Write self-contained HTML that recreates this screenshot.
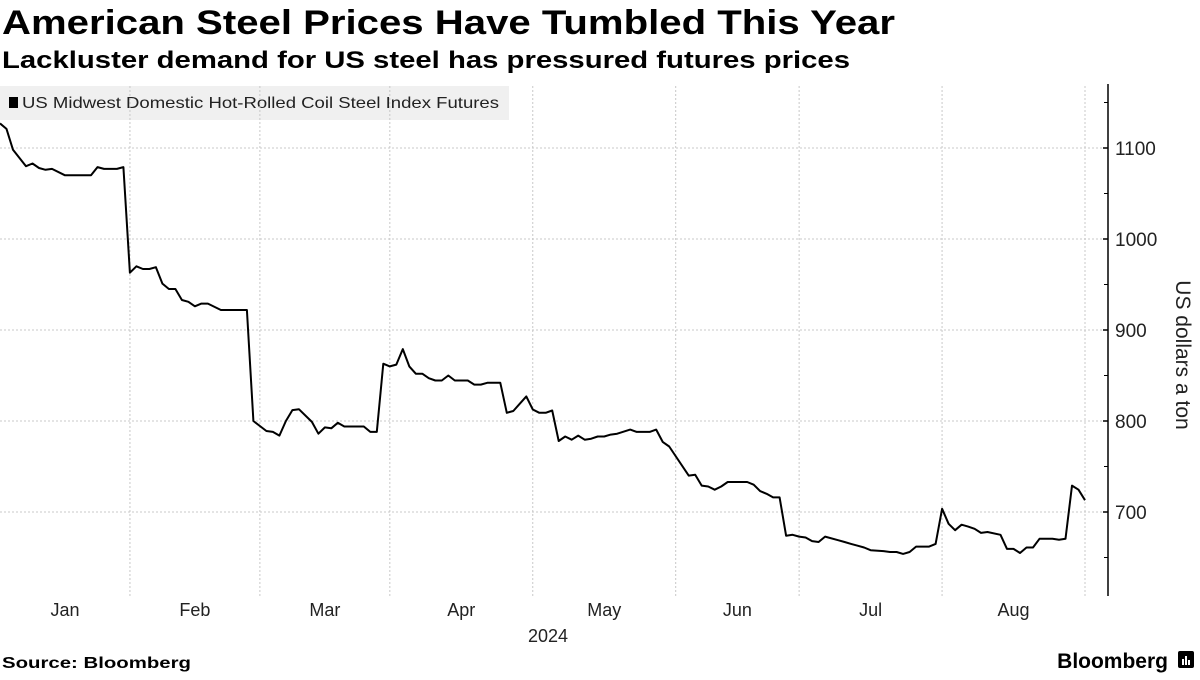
<!DOCTYPE html>
<html><head><meta charset="utf-8"><style>
body{margin:0;background:#fff;width:1200px;height:675px;overflow:hidden;font-family:"Liberation Sans",sans-serif;}
</style></head><body>
<svg id="chart" width="1200" height="675" xmlns="http://www.w3.org/2000/svg">
<text x="2" y="34" font-size="34" font-weight="bold" fill="#000" textLength="893" lengthAdjust="spacingAndGlyphs">American Steel Prices Have Tumbled This Year</text>
<text x="2" y="68" font-size="24" font-weight="bold" fill="#000" textLength="848" lengthAdjust="spacingAndGlyphs">Lackluster demand for US steel has pressured futures prices</text>
<g>
<rect x="0" y="86" width="509" height="34" fill="#f0f0f0"/>
<rect x="9" y="97" width="9" height="11" fill="#000"/>
<text x="22" y="108" font-size="16" fill="#222" textLength="477" lengthAdjust="spacingAndGlyphs">US Midwest Domestic Hot-Rolled Coil Steel Index Futures</text>
</g>
<g id="grid"></g>
<g id="axes"></g>
<path id="line" fill="none" stroke="#000" stroke-width="2" stroke-linejoin="round"/>
<text x="548" y="642" font-size="18" text-anchor="middle" fill="#222">2024</text>
<text transform="translate(1176,355) rotate(90)" font-size="21" text-anchor="middle" fill="#222">US dollars a ton</text>
<text x="2" y="668" font-size="16" font-weight="bold" fill="#000" textLength="189" lengthAdjust="spacingAndGlyphs">Source: Bloomberg</text>
<text x="1168" y="668" font-size="21" font-weight="bold" text-anchor="end" fill="#000">Bloomberg</text>
<g><rect x="1178" y="651" width="16" height="17" rx="2" fill="#000"/><rect x="1182" y="659" width="2" height="6" fill="#fff"/><rect x="1185" y="656" width="2" height="9" fill="#fff"/><rect x="1188" y="660" width="2" height="5" fill="#fff"/></g>
</svg>
<script>
const dayIdx=[0,1,2,4,5,6,7,8,10,14,15,16,18,19,20,21,22,23,24,25,26,27,28,29,30,31,32,34,38,39,41,42,43,44,45,46,48,49,50,51,52,53,56,57,58,59,60,61,62,63,64,65,66,67,68,69,70,72,73,74,75,77,78,79,80,81,82,83,84,85,86,87,88,89,90,91,92,93,94,95,97,98,100,101,102,103,106,107,108,109,110,111,112,115,116,117,118,119,120,121,122,123,124,125,126,127,129,130,131,132,133,134,136,137,138,139,140,141,143,144,145,146,147,148,149,150,151,152,154,155,156,157,158,159,160,162,163,164,165,166,167];
const prices=[1127,1121,1098,1080,1083,1078,1076,1077,1070,1070,1079,1077,1077,1079,963,970,967,967,969,951,945,945,933,931,926,929,929,922,922,800,789,788,784,800,812,813,799,786,793,792,798,794,794,788,788,863,860,862,879,860,852,852,847,844.5,844.5,850,844.5,844.5,840,840,842,842,809,811,819,827,812.6,809,809,811.5,778,783,779.5,784,779.5,780.6,783,783,785,786,790.5,788,788,790.5,777,772,740,741,729,728,724.5,728,733,733,730,723,720,716,716,674,675,673,672,668,667,673,669,667,665,663,661,658,657,656,656,654,656,662,662,665,703.5,687,680,686,684,681.5,677,678,675,659.5,659.5,655,661,661,670.5,670.5,669.5,670.5,729,724.5,713];
const monthLabels=["Jan","Feb","Mar","Apr","May","Jun","Jul","Aug"];
const monthStarts=[0,20,40,60,82,104,123,145,167];
const yTicks=[700,800,900,1000,1100];
const yMinor=[650,750,850,950,1050,1150];

const NS="http://www.w3.org/2000/svg";
const X0=0,X1=1085,NDAYS=167;
const xs=d=>X0+(X1-X0)*d/NDAYS;
const ys=v=>512-(v-700)*(364/400);
const grid=document.getElementById('grid'),axes=document.getElementById('axes');
function mk(tag,attrs,parent){const e=document.createElementNS(NS,tag);for(const k in attrs)e.setAttribute(k,attrs[k]);parent.appendChild(e);return e;}
yTicks.forEach(v=>{
  const g=mk('line',{x1:0,x2:1108,y1:ys(v),y2:ys(v),stroke:'#c8c8c8','stroke-dasharray':'2,2','stroke-width':1},grid);
  
  
  const t=mk('line',{x1:1103,x2:1108,y1:ys(v),y2:ys(v),stroke:'#000','stroke-width':1.5},axes);
  
  
  const l=mk('text',{x:1115,y:ys(v)+7,'font-size':19,fill:'#222'},axes);
  l.textContent=v;
  
  
});
yMinor.forEach(v=>{
  const t=mk('line',{x1:1104,x2:1108,y1:ys(v),y2:ys(v),stroke:'#000','stroke-width':1},axes);
  
  
});
monthStarts.forEach((d,i)=>{
  if(i>0){
    const g=mk('line',{x1:xs(d),x2:xs(d),y1:86,y2:596,stroke:'#c8c8c8','stroke-dasharray':'2,2','stroke-width':1},grid);
    
    
  }
  if(i<monthLabels.length){
    const l=mk('text',{x:(xs(d)+xs(monthStarts[i+1]))/2,y:616,'font-size':18,'text-anchor':'middle',fill:'#222'},axes);
    l.textContent=monthLabels[i];
    
    
  }
});
const ax=mk('line',{x1:1108,x2:1108,y1:84,y2:596,stroke:'#000','stroke-width':1.5},axes);


document.getElementById('line').setAttribute('d',dayIdx.map((d,i)=>(i?'L':'M')+xs(d).toFixed(1)+','+ys(prices[i]).toFixed(1)).join(''));
</script>
</body></html>
